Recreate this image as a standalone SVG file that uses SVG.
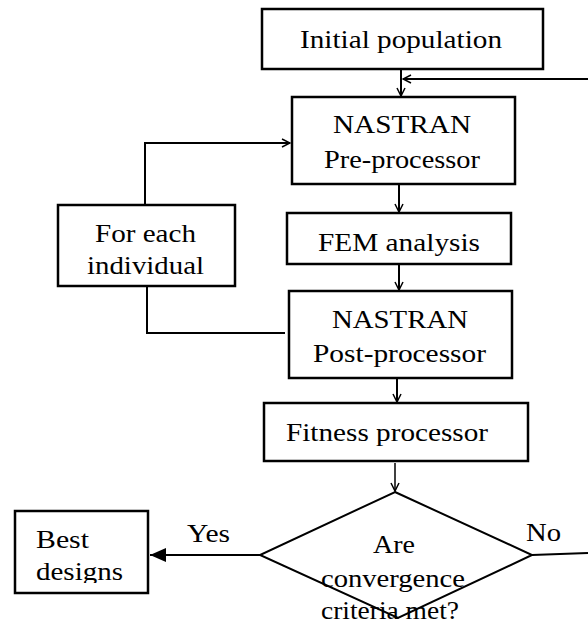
<svg xmlns="http://www.w3.org/2000/svg" width="588" height="625" viewBox="0 0 588 625">
<style>
.box{fill:#fff;stroke:#000;stroke-width:2.5}
.ln{fill:none;stroke:#000;stroke-width:2}
text{font-family:'Liberation Serif',Tinos,'Times New Roman',Times,serif;font-size:26px;fill:#000}
</style>
<defs>
<marker id="open" viewBox="0 0 10 10" refX="9" refY="5" markerWidth="10" markerHeight="10" markerUnits="userSpaceOnUse" orient="auto">
<path d="M1,1 L9,5 L1,9" fill="none" stroke="#000" stroke-width="1.5"/>
</marker>
<marker id="solid" viewBox="0 0 16 14" refX="16" refY="7" markerWidth="16" markerHeight="14" markerUnits="userSpaceOnUse" orient="auto">
<path d="M0,0 L16,7 L0,14 Z" fill="#000"/>
</marker>
<clipPath id="bestclip"><rect x="15" y="511" width="133" height="72"/></clipPath>
</defs>
<g id="connectors">
<line class="ln" x1="401" y1="69" x2="401" y2="96" marker-end="url(#open)"/>
<line class="ln" x1="588" y1="79" x2="403" y2="79" marker-end="url(#open)"/>
<polyline class="ln" points="145,205 145,143 290,143" marker-end="url(#open)"/>
<line class="ln" x1="399" y1="184" x2="399" y2="212" marker-end="url(#open)"/>
<line class="ln" x1="399" y1="264" x2="399" y2="290" marker-end="url(#open)"/>
<polyline class="ln" points="147,285 147,333 285,333"/>
<line class="ln" x1="397" y1="378" x2="397" y2="402" marker-end="url(#open)"/>
<line class="ln" x1="395" y1="463" x2="395" y2="491" marker-end="url(#open)" style="stroke-width:1.5"/>
<line class="ln" x1="260" y1="555" x2="150" y2="555" marker-end="url(#solid)"/>
<line class="ln" x1="532" y1="555" x2="588" y2="553"/>
</g>
<g id="initial">
<rect class="box" x="262" y="9" width="281" height="60"/>
<text x="300" y="48" textLength="202" lengthAdjust="spacingAndGlyphs">Initial population</text>
</g>
<g id="pre">
<rect class="box" x="292" y="97" width="223" height="87"/>
<text x="333" y="133" textLength="138" lengthAdjust="spacingAndGlyphs">NASTRAN</text>
<text x="324" y="168" textLength="156" lengthAdjust="spacingAndGlyphs">Pre-processor</text>
</g>
<g id="foreach">
<rect class="box" x="58" y="205" width="177" height="81"/>
<text x="95" y="242" textLength="101" lengthAdjust="spacingAndGlyphs">For each</text>
<text x="87" y="274" textLength="117" lengthAdjust="spacingAndGlyphs">individual</text>
</g>
<g id="fem">
<rect class="box" x="287" y="213" width="224" height="51"/>
<text x="318" y="251" textLength="162" lengthAdjust="spacingAndGlyphs">FEM analysis</text>
</g>
<g id="post">
<rect class="box" x="289" y="291" width="223" height="87"/>
<text x="332" y="328" textLength="136" lengthAdjust="spacingAndGlyphs">NASTRAN</text>
<text x="313" y="362" textLength="173" lengthAdjust="spacingAndGlyphs">Post-processor</text>
</g>
<g id="fitness">
<rect class="box" x="264" y="403" width="264" height="58"/>
<text x="286" y="441" textLength="202" lengthAdjust="spacingAndGlyphs">Fitness processor</text>
</g>
<g id="decision">
<polygon points="395,492 532,555 398,618 260,555" fill="none" stroke="#000" stroke-width="2"/>
<text x="373" y="553" textLength="42" lengthAdjust="spacingAndGlyphs">Are</text>
<text x="321" y="587" textLength="144" lengthAdjust="spacingAndGlyphs">convergence</text>
<text x="321" y="619" textLength="138" lengthAdjust="spacingAndGlyphs">criteria met?</text>
</g>
<g id="best">
<rect class="box" x="15" y="511" width="133" height="82"/>
<g clip-path="url(#bestclip)">
<text x="36" y="548" textLength="53" lengthAdjust="spacingAndGlyphs">Best</text>
<text x="36" y="580" textLength="87" lengthAdjust="spacingAndGlyphs">designs</text>
</g>
</g>
<g id="labels">
<text x="187" y="542" textLength="43" lengthAdjust="spacingAndGlyphs">Yes</text>
<text x="526" y="541" textLength="35" lengthAdjust="spacingAndGlyphs">No</text>
</g>
</svg>
